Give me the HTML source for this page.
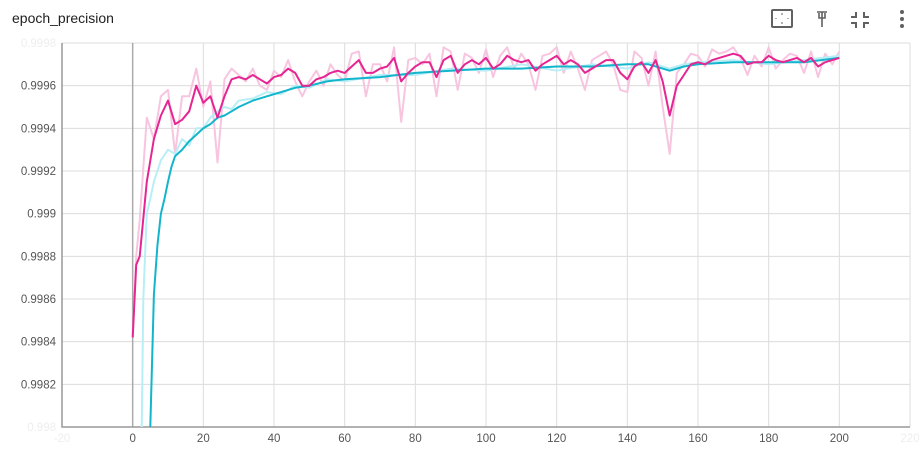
<!DOCTYPE html>
<html><head><meta charset="utf-8"><style>
html,body{margin:0;padding:0;background:#fff;width:921px;height:466px;overflow:hidden;font-family:"Liberation Sans",Roboto,sans-serif;position:relative}
.title{position:absolute;left:12px;top:10px;font-size:14px;color:#212121;line-height:17px}
svg{display:block}
</style></head><body>
<div class="title">epoch_precision</div>
<svg width="921" height="466" style="position:absolute;left:0;top:0">
  <g id="icons" fill="none" stroke="#616161" stroke-width="2">
    <g><rect x="772" y="10" width="20" height="17" rx="1"/><path d="M781 14h2 M781 23h2 M776 18v1 M788 18v1" stroke-width="1"/></g>
    <g><path d="M817 12h10 M822 12v10 M819 13v5h6v-5 M822 22v5" stroke-width="1.6"/></g>
    <g><path d="M856 12v5h-5 M864 12v5h5 M856 28v-5h-5 M864 28v-5h5" stroke-width="2"/></g>
  </g>
  <g fill="#616161"><circle cx="902" cy="12" r="2"/><circle cx="902" cy="19" r="2"/><circle cx="902" cy="26" r="2"/></g>
  <defs><clipPath id="pc"><rect x="62" y="43" width="848" height="384"/></clipPath></defs>
  <g id="grid"></g>
  <g id="axes"></g>
  <g id="series" clip-path="url(#pc)"></g>
</svg>
<script>
const pinkEpochs=[0,1];for(let i=2;i<=200;i+=2)pinkEpochs.push(i);
const pinkSmooth=[.99842,.99876,.99880,.99915,.99935,.99946,.99953,.99942,.99944,.99948,.99960,.99952,.99955,.99945,.99955,.99963,.99964,.99963,.99965,.99963,.99961,.99964,.99965,.99968,.99966,.99960,.99960,.99963,.99964,.99966,.99967,.99966,.99969,.99972,.99966,.99966,.99968,.99969,.99973,.99962,.99966,.99969,.99971,.99971,.99964,.99972,.99974,.99966,.99970,.99972,.99970,.99973,.99968,.99970,.99974,.99972,.99971,.99972,.99967,.99970,.99972,.99974,.99970,.99972,.99970,.99966,.99968,.99970,.99972,.99972,.99966,.99963,.99969,.99971,.99966,.99972,.99962,.99946,.99960,.99965,.99970,.99971,.99970,.99972,.99973,.99974,.99975,.99974,.99970,.99971,.99971,.99974,.99972,.99971,.99972,.99973,.99971,.99973,.99969,.99971,.99972,.99973];
const pinkRaw=[.99842,.99880,.99897,.99945,.99935,.99955,.99958,.99928,.99955,.99955,.99968,.99950,.99962,.99924,.99963,.99968,.99965,.99962,.99968,.99960,.99958,.99967,.99964,.99972,.99962,.99955,.99962,.99967,.99960,.99970,.99965,.99962,.99975,.99976,.99955,.99970,.99970,.99962,.99978,.99943,.99972,.99973,.99970,.99975,.99955,.99978,.99976,.99958,.99975,.99973,.99966,.99977,.99964,.99974,.99978,.99968,.99975,.99970,.99958,.99974,.99975,.99978,.99966,.99976,.99968,.99958,.99972,.99974,.99976,.99970,.99958,.99957,.99976,.99973,.99960,.99976,.99950,.99928,.99966,.99970,.99975,.99974,.99969,.99977,.99975,.99976,.99978,.99973,.99965,.99974,.99969,.99978,.99968,.99972,.99975,.99974,.99966,.99976,.99964,.99975,.99970,.99976];
const cyanEpochs=[4,5,6,7,8,9,10,11,12,14,16,18,20,22,24,26,28,30,34,38,42,46,50,55,60,70,80,90,100,110,120,130,140,146,152,156,160,170,180,190,200];
const cyanSmooth=[.9974,.9980,.99862,.99885,.99900,.99907,.99915,.99922,.99927,.99930,.99934,.99937,.99940,.99942,.99945,.99946,.99948,.99950,.99953,.99955,.99957,.99959,.99960,.99962,.99963,.99964,.99966,.99967,.99968,.99968,.99969,.99969,.99970,.99970,.99967,.99969,.99970,.99971,.99971,.99971,.99973];
const cyanRawEpochs=[2.5,3,4,5,6,8,10,12,14,16,18,20,22,24,26,28,30,34,38,42,46,50,55,60,70,80,90,100,110,120,130,140,146,152,156,160,170,180,190,200];
const cyanRaw=[.9979,.99860,.99900,.99907,.99915,.99925,.99930,.99928,.99935,.99932,.99940,.99940,.99945,.99948,.99950,.99949,.99953,.99954,.99957,.99956,.99960,.99959,.99963,.99962,.99965,.99965,.99968,.99967,.99970,.99967,.99970,.99968,.99971,.99968,.99970,.99971,.99972,.99970,.99972,.99974];
const yTicks=[0.998,0.9982,0.9984,0.9986,0.9988,0.999,0.9992,0.9994,0.9996,0.9998];
const yTickLabels=["0.998","0.9982","0.9984","0.9986","0.9988","0.999","0.9992","0.9994","0.9996","0.9998"];
const xTicks=[-20,0,20,40,60,80,100,120,140,160,180,200,220];

const X0=62,X1=910,Y0=43,Y1=427,xmin=-20,xmax=220,ymin=0.998,ymax=0.9998;
const sx=v=>X0+(v-xmin)/(xmax-xmin)*(X1-X0);
const sy=v=>Y1-(v-ymin)/(ymax-ymin)*(Y1-Y0);
const NS="http://www.w3.org/2000/svg";
function mk(t,a,p){const e=document.createElementNS(NS,t);for(const k in a)e.setAttribute(k,a[k]);p.appendChild(e);return e;}
const grid=document.getElementById('grid'),axes=document.getElementById('axes'),ser=document.getElementById('series');
yTicks.forEach((v,i)=>{
  const l=mk('line',{x1:X0,x2:X1,y1:sy(v),y2:sy(v),stroke:'#dcdcdc','stroke-width':1},grid);
  
  
  const edge=(i===0||i===yTicks.length-1);
  const t=mk('text',{x:56,y:sy(v)+4,'text-anchor':'end','font-size':11.5,fill:edge?'#eee':'#555','font-family':'Liberation Sans, sans-serif'},axes);
  t.textContent=yTickLabels[i];
  
  
});
xTicks.forEach((v,i)=>{
  const l=mk('line',{x1:sx(v),x2:sx(v),y1:Y0,y2:Y1,stroke:v===0?'#aaa':'#dcdcdc','stroke-width':v===0?1.5:1},grid);
  
  
  const edge=(i===0||i===xTicks.length-1);
  const t=mk('text',{x:sx(v),y:442,'text-anchor':'middle','font-size':11.5,fill:edge?'#eee':'#555','font-family':'Liberation Sans, sans-serif'},axes);
  t.textContent=String(v);
  
  
});
const ax=mk('path',{d:`M${X0} ${Y0}V${Y1}H${X1}`,fill:'none',stroke:'#999','stroke-width':1.5},axes);


function line(xs,ys,color,w,name){
  const d=xs.map((x,i)=>(i?'L':'M')+sx(x).toFixed(1)+' '+sy(ys[i]).toFixed(1)).join('');
  const p=mk('path',{d:d,fill:'none',stroke:color,'stroke-width':w,'stroke-linejoin':'round'},ser);
  
  
}
line(pinkEpochs,pinkRaw,'#f7c5e0',2,'pink-raw-line');
line(cyanRawEpochs,cyanRaw,'#b8eef6',2,'cyan-raw-line');
line(cyanEpochs,cyanSmooth,'#12b5cb',2,'cyan-smoothed-line');
line(pinkEpochs,pinkSmooth,'#e52592',2,'pink-smoothed-line');
</script>
</body></html>
